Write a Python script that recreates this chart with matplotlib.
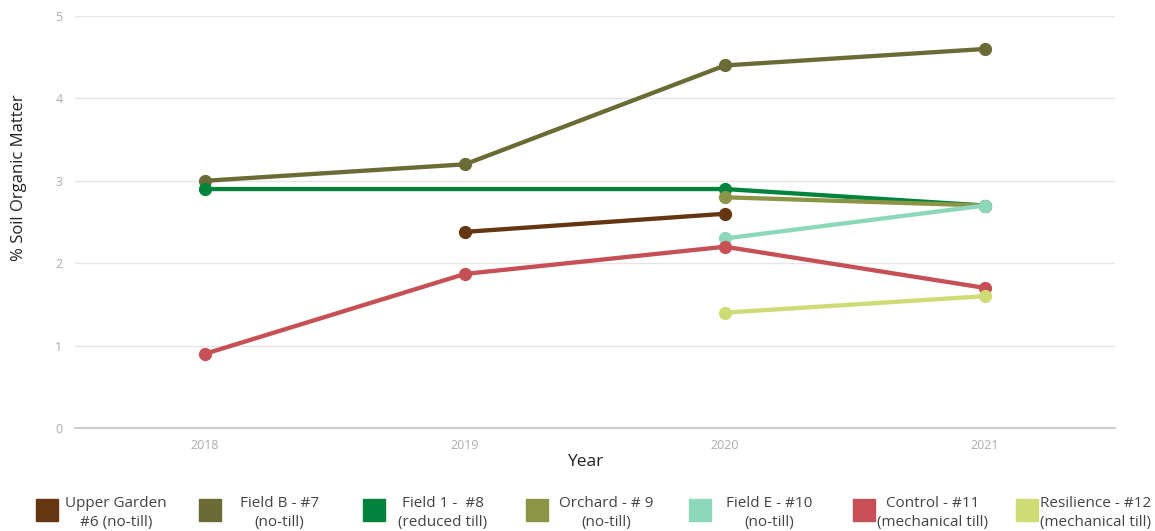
import numpy as np
import matplotlib
matplotlib.use("Agg")
import matplotlib.pyplot as plt
from matplotlib.patches import Rectangle

years = [2018, 2019, 2020, 2021]
nan = np.nan
series_names = [
    "Upper Garden\n#6 (no-till)",
    "Field B - #7\n(no-till)",
    "Field 1 -  #8\n(reduced till)",
    "Orchard - # 9\n(no-till)",
    "Field E - #10\n(no-till)",
    "Control - #11\n(mechanical till)",
    "Resilience - #12\n(mechanical till)",
]
upper_garden = [nan, 2.38, 2.6, nan]
field_b = [3.0, 3.2, 4.4, 4.6]
field_1 = [2.9, nan, 2.9, 2.7]
orchard = [nan, nan, 2.8, 2.7]
field_e = [nan, nan, 2.3, 2.7]
control = [0.9, 1.87, 2.2, 1.7]
resilience = [nan, nan, 1.4, 1.6]
series_values = [upper_garden, field_b, field_1, orchard, field_e, control, resilience]
colors = ["#643712", "#6b6b35", "#00843d", "#8c9446", "#8dd8bb", "#c65055", "#cfdb74"]

plt.rcParams['font.family'] = ['Open Sans', 'DejaVu Sans']

W, H = 1155, 531
fig = plt.figure(figsize=(W/100, H/100), dpi=100)
ax = fig.add_axes([75/W, 1-428/H, (1115-75)/W, (428-16)/H])

for name, vals, c in zip(series_names, series_values, colors):
    x = np.array(years, dtype=float)
    y = np.array(vals, dtype=float)
    m = ~np.isnan(y)
    ax.plot(x[m], y[m], color=c, lw=3.1, marker='o', ms=8.5, label=name,
            solid_capstyle='round')

ax.set_xlim(2017.5, 2021.5)
ax.set_ylim(0, 5)
ax.set_xticks(years)
ax.set_xticklabels([str(y) for y in years])
ax.set_yticks([0, 1, 2, 3, 4, 5])
ax.tick_params(axis='both', length=0, labelsize=9, labelcolor='#adadad')
ax.tick_params(axis='y', pad=9)
ax.tick_params(axis='x', pad=8)
ax.grid(axis='y', color='#e6e6e6', lw=1)
ax.set_axisbelow(True)
for s in ['top', 'right', 'left']:
    ax.spines[s].set_visible(False)
ax.spines['bottom'].set_color('#cccccc')
ax.spines['bottom'].set_linewidth(1.5)
ax.set_ylabel('% Soil Organic Matter', fontsize=12, color='#222222')
ax.yaxis.set_label_coords((27-75)/1040, (428-178)/412)
ax.set_xlabel('Year', fontsize=12.5, color='#222222')
ax.xaxis.set_label_coords((585-75)/1040, (428-454)/412)

# legend, manually laid out in a row
for i, (name, c) in enumerate(zip(series_names, colors)):
    left = 36 + 163.3 * i
    fig.patches.append(Rectangle((left/W, 1-521/H), 22/W, 22/H, color=c,
                                 transform=fig.transFigure, figure=fig))
    fig.text((left+80)/W, 1-513/H, name, ha='center', va='center',
             multialignment='center', fontsize=11, color='#444444', linespacing=1.35)

fig.savefig('out.png', dpi=100)
